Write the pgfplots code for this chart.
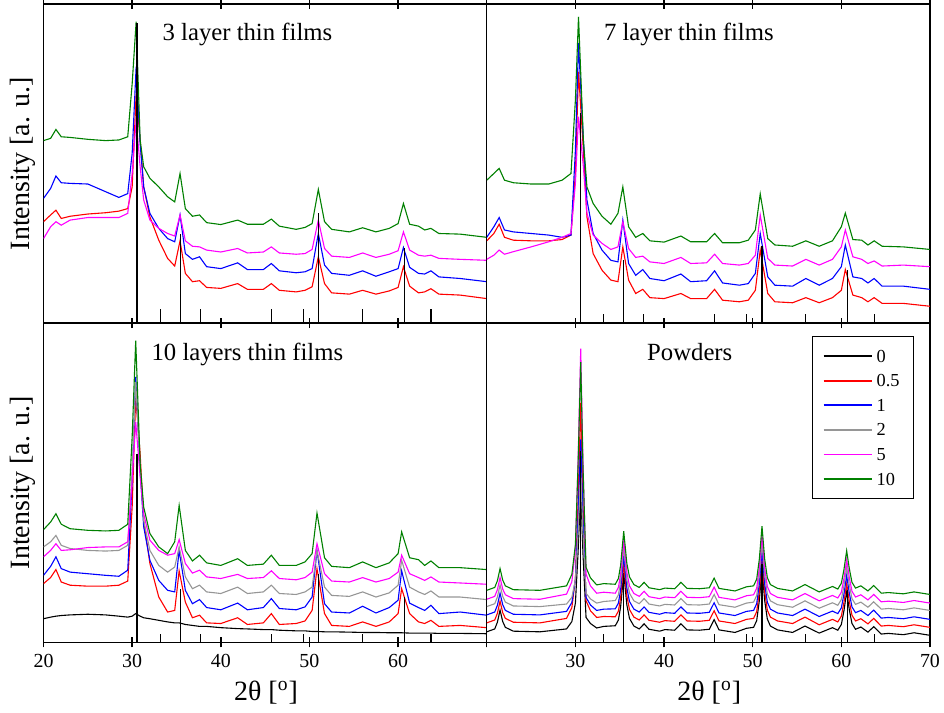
\documentclass[border=0pt]{standalone}
\usepackage{pgfplots}
\pgfplotsset{compat=1.18}
\usepackage{pgfplotstable}
\usepgfplotslibrary{groupplots}
\usepackage{fontspec}
\setmainfont{Liberation Serif}
\definecolor{cgreen}{RGB}{0,128,0}
\definecolor{cgray}{RGB}{150,150,150}
\definecolor{cmag}{RGB}{255,0,255}

% 3 layer thin films
\pgfplotstableread{
x     r    b    m    g
20.0  31.8 39.1 26.5 57.2
20.8  33.9 42.2 30.2 57.9
21.4  35.4 46.1 31.8 60.7
22.0  32.8 44.0 30.7 58.4
23.0  33.5 43.8 32.3 58.2
25.0  34.2 43.6 33.1 57.6
27.0  34.6 41.2 33.1 57.2
28.5  35.1 39.4 33.1 57.4
29.5  35.9 40.6 34.4 58.4
30.0  42.7 53.2 46.9 75.0
30.45 72.0 80.4 63.6 94.5
30.9  57.4 56.3 49.0 57.4
31.3  42.7 42.7 38.6 49.0
32.0  33.3 34.4 32.3 45.4
33.0  26.0 29.7 29.7 42.7
34.0  20.3 26.5 28.1 39.6
34.8  17.9 25.5 27.3 38.0
35.4  25.8 33.9 33.9 46.9
36.0  15.6 21.8 25.8 35.9
36.8  13.0 20.0 24.1 33.5
37.6  13.3 20.8 23.9 33.9
38.4  11.2 17.7 22.9 31.5
40.0  10.9 17.1 22.3 30.9
41.9  12.4 18.9 23.4 32.3
43.0  10.6 16.8 22.0 31.0
44.8  10.6 16.8 22.3 31.0
45.7  12.4 18.7 23.9 32.6
46.6  10.3 16.4 22.0 30.4
48.5  9.8  15.8 21.6 29.4
49.5  10.3 16.1 21.8 30.0
50.3  11.4 17.1 23.1 31.2
51.0  20.8 28.1 32.3 41.9
51.7  12.4 18.2 23.4 31.8
52.5  9.5  15.6 21.0 29.4
54.5  9.1  15.0 20.6 28.6
56.0  10.3 16.4 22.0 29.9
57.5  9.1  14.7 20.6 28.6
59.0  10.1 16.1 21.6 29.7
60.0  11.2 17.1 22.7 31.2
60.6  17.7 23.7 28.6 37.5
61.3  11.6 17.5 22.9 31.0
62.3  9.5  15.6 21.3 30.4
63.0  9.8  15.4 21.0 29.2
63.7  10.8 16.4 21.3 29.7
64.6  9.1  14.5 20.3 28.1
67.0  8.8  14.0 20.0 27.9
70.0  7.7  13.0 19.7 26.9
}\tTL

% 7 layer thin films
\pgfplotstableread{
x     r    b    m    g
20.0  25.8 26.9 20.0 44.8
20.8  28.1 30.2 21.3 46.9
21.4  31.0 33.1 22.9 48.5
22.0  26.9 29.2 21.6 44.8
23.0  26.0 28.6 22.4 44.0
25.0  25.8 28.1 23.9 43.6
27.0  25.8 27.6 25.5 43.6
28.5  26.2 26.9 26.9 44.8
29.5  27.6 27.6 28.1 46.9
30.0  46.9 54.2 43.8 69.9
30.35 78.8 87.7 64.7 96.0
30.9  54.2 57.4 49.0 57.4
31.3  33.3 38.6 34.4 42.7
32.0  21.8 28.1 27.6 37.5
33.0  16.6 22.9 25.0 33.5
34.0  13.5 19.7 23.1 31.0
34.8  13.0 19.2 23.9 34.4
35.35 23.9 32.3 31.8 42.7
36.0  13.5 18.7 23.4 30.2
36.8  9.3  15.0 20.6 26.9
37.6  10.6 16.8 21.0 28.1
38.4  8.0  14.0 19.2 25.8
40.0  7.7  13.3 18.7 25.4
41.9  9.3  15.4 20.6 27.3
43.0  7.7  13.0 18.7 25.5
44.8  7.7  13.3 18.9 25.5
45.7  10.6 16.4 21.6 28.1
46.6  7.2  12.6 18.7 25.2
48.5  6.7  11.9 18.2 25.2
49.5  7.2  12.4 18.7 26.0
50.3  10.3 15.6 21.3 29.2
50.85 22.9 28.1 33.9 40.5
51.7  9.3  14.5 20.3 26.5
52.5  6.7  11.9 18.2 24.5
54.5  6.4  11.6 17.9 24.1
56.0  8.0  14.0 20.0 25.8
57.5  6.4  11.9 18.2 24.1
59.0  8.0  14.0 20.0 25.8
60.0  10.3 17.7 23.9 30.2
60.45 16.8 24.5 29.2 34.5
61.3  8.8  14.5 20.8 26.2
62.3  8.0  14.0 20.0 26.0
63.0  6.7  12.6 18.7 24.5
63.7  8.0  14.0 19.5 25.8
64.6  6.2  11.6 17.9 24.1
67.0  6.2  11.6 18.2 23.9
70.0  5.3  10.6 17.7 23.1
}\tTR

% 10 layers thin films
\pgfplotstableread{
x     k    r    b    gr   m    g
20.0  7.4  18.4 21.0 29.9 26.8 35.3
20.8  7.9  20.3 23.8 31.5 28.8 37.7
21.4  8.2  22.8 26.8 33.5 30.9 40.3
22.0  8.4  18.9 23.1 30.4 28.8 37.0
23.0  8.6  17.9 22.0 29.4 29.0 35.6
25.0  8.8  17.6 21.5 28.8 29.7 35.1
27.0  8.6  17.6 21.0 28.6 29.9 34.9
28.5  8.2  17.9 20.7 28.8 29.9 35.1
29.5  7.9  19.2 22.6 30.4 31.5 37.0
30.0  8.2  42.4 50.8 53.9 50.8 64.4
30.4  9.0  76.9 83.2 81.6 69.1 94.5
30.9  8.2  59.1 53.9 55.0 51.8 56.0
31.3  7.7  38.2 36.2 38.2 40.3 42.4
32.0  7.4  24.7 25.7 28.8 32.0 34.1
33.0  6.9  14.2 19.4 24.1 28.8 29.9
34.0  6.4  9.5  16.3 22.0 27.3 27.8
34.8  6.1  10.0 15.8 23.6 27.8 31.5
35.3  6.1  22.4 28.8 29.9 32.2 42.9
36.0  5.6  12.6 16.3 20.5 24.7 28.8
36.8  5.3  7.7  12.1 16.8 21.7 25.5
37.6  5.0  8.5  13.4 17.9 22.6 27.3
38.4  5.0  6.1  10.9 15.8 20.5 24.9
40.0  4.6  5.9  10.2 15.3 20.0 24.1
41.9  4.3  7.7  12.3 17.3 21.3 26.2
43.0  4.2  5.6  10.2 15.3 20.0 24.1
44.8  4.0  6.1  10.9 15.8 20.3 24.5
45.7  4.0  9.0  13.7 17.9 22.4 27.3
46.6  3.8  5.6  10.6 15.3 20.0 24.1
48.5  3.6  5.9  10.2 15.0 19.6 24.1
49.5  3.6  6.7  11.1 15.8 20.3 25.2
50.3  3.4  10.0 14.2 17.3 22.0 27.8
50.85 3.4  23.1 28.8 28.8 30.9 40.5
51.7  3.3  9.0  12.1 17.3 21.5 26.5
52.5  3.3  5.3  9.5  14.7 19.2 23.8
54.5  3.2  5.0  9.2  14.4 18.9 23.4
56.0  3.1  6.4  11.3 15.8 20.3 25.2
57.5  3.1  5.0  9.2  14.2 18.9 23.4
59.0  3.0  6.4  10.9 15.5 20.0 24.9
60.0  3.0  9.0  13.2 17.9 22.0 27.8
60.4  3.0  16.8 22.4 25.7 27.3 34.6
61.3  2.9  9.0  12.3 17.3 21.5 26.5
62.3  2.9  6.4  10.9 15.8 20.3 25.9
63.0  2.9  5.9  10.0 15.0 19.4 24.1
63.7  2.9  6.9  11.6 16.1 20.5 25.5
64.6  2.8  5.0  9.0  14.2 18.9 23.4
67.0  2.8  5.3  9.5  14.2 18.6 23.4
70.0  2.7  4.6  8.5  13.4 18.2 22.8
}\tBL

% Powders
\pgfplotstableread{
x      k    r    b    gr   m    g
20.0   3.3  6.1  8.6  11.2 13.5 16.3
20.9   4.2  7.0  9.5  12.1 14.4 17.2
21.2   6.3  9.1  11.6 14.2 16.5 19.3
21.5   10.1 12.9 15.4 18.0 20.3 23.1
21.8   6.5  9.3  11.8 14.4 16.7 19.5
22.1   4.7  7.5  10.0 12.6 14.9 17.7
23.0   3.5  6.3  8.8  11.4 13.7 16.5
26.0   3.3  6.1  8.6  11.2 13.5 16.3
29.0   4.2  7.5  9.7  12.0 15.1 17.7
29.6   6.5  10.9 12.5 14.1 19.0 21.3
30.0   12.3 19.9 19.6 19.6 29.2 30.6
30.3   28.1 44.1 38.9 34.3 56.7 55.6
30.6   48.3 75.1 63.6 53.2 92.0 87.8
30.85  28.1 44.1 38.9 34.3 56.7 55.6
31.2   7.8  13.0 14.1 15.4 21.4 23.5
31.7   5.9  9.9  11.7 13.6 17.7 20.2
32.4   4.5  7.8  10.0 12.3 15.4 18.0
33.2   5.0  8.1  10.4 12.8 15.7 18.4
34.5   5.2  8.0  10.5 13.1 15.4 18.2
34.85  7.0  9.8  12.3 14.9 17.2 20.0
35.1   11.1 13.9 16.4 19.0 21.3 24.1
35.45  21.8 24.6 27.1 29.7 32.0 34.8
35.8   11.8 14.6 17.1 19.7 22.0 24.8
36.1   7.5  10.3 12.8 15.4 17.7 20.5
36.6   5.1  7.9  10.4 13.0 15.3 18.1
37.2   4.2  7.0  9.5  12.1 14.4 17.2
37.75  5.8  8.6  11.1 13.7 16.0 18.8
38.3   4.1  6.9  9.4  12.0 14.3 17.1
39.5   3.5  6.3  8.8  11.4 13.7 16.5
40.1   4.0  6.8  9.3  11.9 14.2 17.0
41.2   3.8  6.6  9.1  11.7 14.0 16.8
41.9   5.8  8.6  11.1 13.7 16.0 18.8
42.6   3.9  6.7  9.2  11.8 14.1 16.9
44.0   3.8  6.6  9.1  11.7 14.0 16.8
45.1   4.1  6.9  9.4  12.0 14.3 17.1
45.65  7.1  9.9  12.4 15.0 17.3 20.1
46.2   3.9  6.7  9.2  11.8 14.1 16.9
48.0   3.1  5.9  8.4  11.0 13.3 16.1
49.3   4.4  7.2  9.7  12.3 14.6 17.4
50.1   4.7  7.5  10.0 12.6 14.9 17.7
50.45  6.8  9.6  12.1 14.7 17.0 19.8
50.75  13.1 15.9 18.4 21.0 23.3 26.1
51.05  23.4 26.2 28.7 31.3 33.6 36.4
51.35  13.1 15.9 18.4 21.0 23.3 26.1
51.65  7.3  10.1 12.6 15.2 17.5 20.3
52.0   5.1  7.9  10.4 13.0 15.3 18.1
52.8   3.9  6.7  9.2  11.8 14.1 16.9
54.5   3.1  5.9  8.4  11.0 13.3 16.1
55.9   5.1  7.9  10.4 13.0 15.3 18.1
57.5   2.9  5.5  8.1  10.7 13.0 15.8
59.0   4.6  7.2  9.8  12.4 14.7 17.5
59.6   3.8  6.4  9.0  11.6 13.9 16.7
60.0   5.6  8.2  10.8 13.4 15.7 18.5
60.3   10.0 12.6 15.2 17.8 20.1 22.9
60.6   15.8 18.4 21.0 23.6 25.9 28.7
60.9   10.2 12.8 15.4 18.0 20.3 23.1
61.2   5.9  8.5  11.1 13.7 16.0 18.8
61.6   4.1  6.7  9.3  11.9 14.2 17.0
62.2   4.8  7.4  10.0 12.6 14.9 17.7
63.0   3.2  5.8  8.4  11.0 13.3 16.1
63.65  4.9  7.5  10.1 12.7 15.0 17.8
64.5   2.6  5.1  7.6  10.4 12.7 15.4
65.3   2.8  5.3  7.8  10.6 12.9 15.6
67.0   2.4  4.9  7.4  10.2 12.5 15.2
68.2   3.0  5.5  8.0  10.8 13.1 15.8
70.0   2.2  4.7  7.2  10.0 12.3 15.0
}\tBR

\begin{document}
\begin{tikzpicture}
\begin{groupplot}[
  group style={group size=2 by 2, horizontal sep=0pt, vertical sep=0pt},
  scale only axis, width=221.5bp, height=159.5bp,
  xmin=20, xmax=70, ymin=0, ymax=100,
  xtick={20,30,40,50,60,70}, ytick=\empty,
  tick align=center, major tick length=5bp,
  axis line style={line width=0.7bp},
  every tick/.style={black, line width=0.7bp},
  tick label style={font=\fontsize{10}{12}\selectfont},
  label style={font=\fontsize{14}{16}\selectfont},
  /pgf/number format/assume math mode=true,
  every axis plot/.append style={line width=0.55bp, mark=none},
  ylabel style={at={(axis description cs:-0.046,0.5)}, anchor=center},
  xlabel style={at={(axis description cs:0.502,-0.158)}, anchor=center},
]
% ---------- 3 layer
\nextgroupplot[xticklabels=\empty, ylabel={Intensity [a. u.]}]
\addplot[red] table[x=x,y=r]{\tTL};
\addplot[blue] table[x=x,y=b]{\tTL};
\addplot[cmag] table[x=x,y=m]{\tTL};
\addplot[cgreen] table[x=x,y=g]{\tTL};
\addplot[ycomb, black, line width=0.6bp, forget plot] coordinates {(30.55,94) (35.45,27.8) (51.05,34.4) (60.7,23.4) (33.2,4.3) (37.7,4.3) (45.7,4.3) (49.3,4.3) (56.0,4.3) (63.7,4.3)};
\node[anchor=base, font=\fontsize{12.4}{14}\selectfont] at (axis cs:43,88.5) {3 layer thin films};
\coordinate (TLc) at (rel axis cs:0,1);
% ---------- 7 layer
\nextgroupplot[xticklabels=\empty]
\addplot[red] table[x=x,y=r]{\tTR};
\addplot[blue] table[x=x,y=b]{\tTR};
\addplot[cmag] table[x=x,y=m]{\tTR};
\addplot[cgreen] table[x=x,y=g]{\tTR};
\addplot[ycomb, black, line width=0.6bp, forget plot] coordinates {(30.55,66) (35.45,19.7) (51.05,24.1) (60.7,16.8) (33.2,3.0) (37.7,3.0) (45.7,3.0) (49.3,3.0) (56.0,3.0) (63.7,3.0)};
\node[anchor=base, font=\fontsize{12.4}{14}\selectfont] at (axis cs:42.8,88.7) {7 layer thin films};
% ---------- 10 layers
\nextgroupplot[xticklabels={20,30,40,50,60,{}}, ylabel={Intensity [a. u.]}, xlabel={2θ [\textsuperscript{o}]}]
\addplot[black] table[x=x,y=k]{\tBL};
\addplot[red] table[x=x,y=r]{\tBL};
\addplot[blue] table[x=x,y=b]{\tBL};
\addplot[cgray] table[x=x,y=gr]{\tBL};
\addplot[cmag] table[x=x,y=m]{\tBL};
\addplot[cgreen] table[x=x,y=g]{\tBL};
\addplot[ycomb, black, line width=0.6bp, forget plot] coordinates {(30.55,59) (35.45,16.8) (51.05,21.5) (60.7,14.3) (33.2,2.7) (37.7,2.7) (45.7,2.7) (49.3,2.7) (56.0,2.7) (63.7,2.7)};
\node[anchor=base, font=\fontsize{12.4}{14}\selectfont] at (axis cs:43,88.4) {10 layers thin films};
% ---------- Powders
\nextgroupplot[xticklabels={{},30,40,50,60,70}, xlabel={2θ [\textsuperscript{o}]},
  legend style={at={(axis description cs:0.964,0.959)}, anchor=north east,
    draw=black, line width=0.5bp, font=\fontsize{9.2}{11}\selectfont,
    inner xsep=5bp, inner ysep=3.5bp, row sep=0bp,
    nodes={text height=7bp, text depth=1bp, inner ysep=2.15bp}},
  legend cell align=left,
  legend image code/.code={\draw[#1, line width=0.9bp] (0bp,0bp) -- (24bp,0bp);}]
\addplot[black] table[x=x,y=k]{\tBR};
\addlegendentry{0}
\addplot[red] table[x=x,y=r]{\tBR};
\addlegendentry{0.5}
\addplot[blue] table[x=x,y=b]{\tBR};
\addlegendentry{1}
\addplot[cgray] table[x=x,y=gr]{\tBR};
\addlegendentry{2}
\addplot[cmag] table[x=x,y=m]{\tBR};
\addlegendentry{5}
\addplot[cgreen] table[x=x,y=g]{\tBR};
\addlegendentry{10}
\addplot[ycomb, black, line width=0.6bp, forget plot] coordinates {(30.55,60) (35.45,20) (51.05,24.5) (60.7,16.5) (33.2,2.5) (37.7,2.5) (45.7,2.5) (49.3,2.5) (56.0,2.5) (63.7,2.5)};
\node[anchor=base, font=\fontsize{12.4}{14}\selectfont] at (axis cs:42.9,88.2) {Powders};
\coordinate (BRc) at (rel axis cs:1,0);
\end{groupplot}
\pgfresetboundingbox
\path[use as bounding box] (TLc) ++(-21.75bp,2bp) rectangle ([shift={(7bp,-35bp)}]BRc);
\end{tikzpicture}
\end{document}
